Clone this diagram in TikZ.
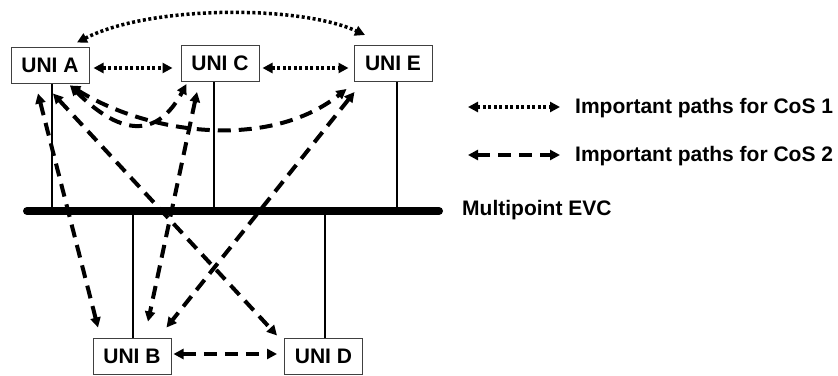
\documentclass[tikz,border=0pt]{standalone}
\usepackage{fontspec}
\setmainfont{Liberation Sans}
\usetikzlibrary{calc, arrows.meta, positioning}
\tikzset{
    uninode/.style = {draw=black!75, line width=1pt, rectangle, fill=white, minimum width=78pt,
      minimum height=36pt, inner sep=0pt, node distance=0em, font=\fontsize{21}{25}\selectfont\bfseries},
    textnode/.style = {draw=none, fill=none, rectangle, inner sep=0em, anchor=west,
      node distance=0em, font=\fontsize{21}{25}\selectfont\bfseries},
    tip/.style = {{Triangle[length=10pt,width=10pt]}-{Triangle[length=10pt,width=10pt]}},
    cosone/.style = {tip, line width=3.5pt, dash pattern=on 3pt off 2.5pt},
    costwo/.style = {tip, line width=4pt, dash pattern=on 13pt off 8pt},
    stubline/.style = {line width=2.5pt},
    busline/.style = {line width=8pt, line cap=round}
}
\begin{document}
\begin{tikzpicture}[x=1pt, y=-1pt]
\useasboundingbox (0,0) rectangle (838,375);

% UNIs
\node[uninode, name=A] at (50,65) {UNI A};
\node[uninode, name=C, right of=A, xshift=170pt, yshift=1.5pt] {UNI C};
\node[uninode, name=E, right of=C, xshift=173pt] {UNI E};
\node[uninode, name=B, below of=A, xshift=82pt, yshift=-291pt] {UNI B};
\node[uninode, name=D, right of=B, xshift=191.5pt] {UNI D};

% EVC bus
\coordinate (busL) at (27,211);
\coordinate (busR) at (439,211);
\draw[stubline] ($(A.south)+(2,0)$) -- ($(A.south |- busL)+(2,0)$);
\draw[stubline] ($(C.south)+(-6,0)$) -- ($(C.south |- busL)+(-6,0)$);
\draw[stubline] ($(E.south)+(4,0)$) -- ($(E.south |- busL)+(4,0)$);
\draw[stubline] ($(B.north |- busL)+(1,0)$) -- ($(B.north)+(1,0)$);
\draw[stubline] ($(D.north |- busL)+(1.5,0)$) -- ($(D.north)+(1.5,0)$);
\draw[busline] (busL) -- (busR);

% CoS 1
\draw[cosone] ($(A.east)+(4,3)$) -- ($(C.west)+(-8,4.5)$);
\draw[cosone] ($(C.east)+(3,4.5)$) -- ($(E.west)+(-5,4.5)$);
\draw[cosone] ($(A.north)+(27,-4)$) .. controls (150,5) and (300,5) .. ($(E.north)+(-28,-10)$);

% CoS 2
\draw[costwo] ($(A.south)+(20,2)$) .. controls (105,120) and (150,152) .. ($(C.south west)+(6,2)$);
\draw[costwo] ($(A.south)+(20,2)$) .. controls (150,135) and (270,150) .. ($(E.south west)+(-7,7)$);
\draw[costwo] ($(A.south)+(-12,10)$) -- ($(B.north)+(-34,-10)$);
\draw[costwo] ($(A.south)+(3,10)$) -- ($(D.north west)+(-7,-2)$);
\draw[costwo] ($(C.south)+(-23,10)$) -- ($(B.north)+(16,-16)$);
\draw[costwo] ($(E.south west)+(1,10)$) -- ($(B.north east)+(-5,-10)$);
\draw[costwo] ($(B.east)+(2,-2)$) -- ($(D.west)+(-7,-2)$);

% legend
\node[textnode, name=cos1] at (575,108) {Important paths for CoS 1};
\node[textnode, name=cos2] at (575,156) {Important paths for CoS 2};
\node[textnode, name=evc] at (462,210) {Multipoint EVC};
\draw[cosone] ($(cos1.west)+(-107,-1)$) -- ($(cos1.west)+(-15,-1)$);
\draw[costwo] ($(cos2.west)+(-107,-1)$) -- ($(cos2.west)+(-15,-1)$);
\end{tikzpicture}
\end{document}
